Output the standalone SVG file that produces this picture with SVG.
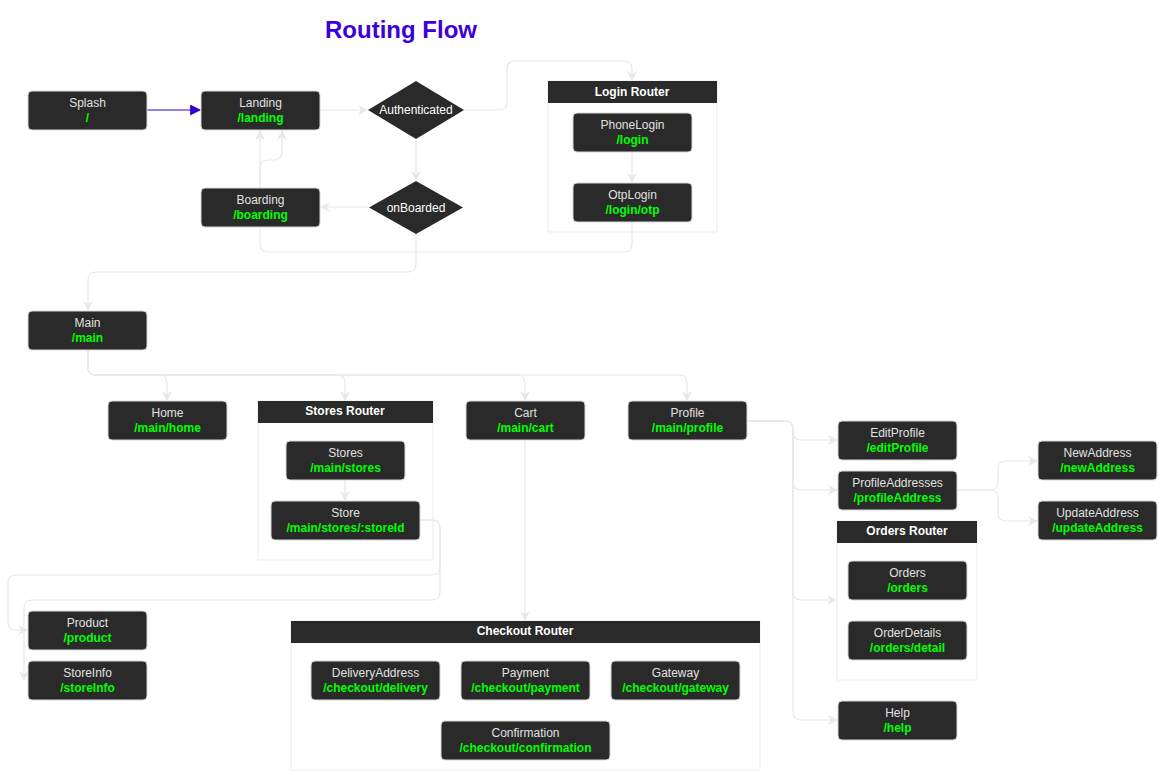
<svg xmlns="http://www.w3.org/2000/svg" width="1159" height="771" viewBox="0 0 1159 771">
<style>
.bg{fill:#ffffff}
.node rect.box{fill:#2a2a2a;stroke:#d8d8d8;stroke-width:1}
.name{font-family:"Liberation Sans",Arial,sans-serif;font-size:12px;fill:#e0e0e0;text-anchor:middle}
.path{font-family:"Liberation Sans",Arial,sans-serif;font-size:12px;font-weight:bold;fill:#00ff00;text-anchor:middle}
.dtext{font-family:"Liberation Sans",Arial,sans-serif;font-size:12px;fill:#ffffff;text-anchor:middle}
.cont{fill:#ffffff;stroke:#ececec;stroke-width:1}
.head{fill:#2a2a2a}
.htext{font-family:"Liberation Sans",Arial,sans-serif;font-size:12px;font-weight:bold;fill:#ffffff;text-anchor:middle}
.title{font-family:"Liberation Sans",Arial,sans-serif;font-size:24px;font-weight:bold;fill:#3c00d8;text-anchor:middle}
.conn path{fill:none;stroke:#e8e8e8;stroke-width:1.2;marker-end:url(#arr)}
.conn path.blue{stroke:#3300cc;marker-end:url(#arrb)}
</style>
<defs>
<marker id="arr" markerUnits="userSpaceOnUse" markerWidth="10" markerHeight="10" viewBox="0 0 10 10" refX="9" refY="5" orient="auto">
<path d="M0,0 L10,5 L0,10 L3,5 z" fill="#e8e8e8"/>
</marker>
<marker id="arrb" markerUnits="userSpaceOnUse" markerWidth="11" markerHeight="11" viewBox="0 0 10 10" refX="9" refY="5" orient="auto">
<path d="M0,0 L10,5 L0,10 z" fill="#3300cc"/>
</marker>
</defs>
<rect class="bg" x="0" y="0" width="1159" height="771"/>
<text class="title" x="401" y="38">Routing Flow</text>

<!-- containers -->
<g id="login-router">
<rect class="cont" x="548" y="81" width="169" height="151"/>
<rect class="head" x="548" y="81" width="169" height="22"/>
<text class="htext" x="632" y="96">Login Router</text>
</g>
<g id="stores-router">
<rect class="cont" x="258" y="401" width="175" height="159"/>
<rect class="head" x="258" y="401" width="175" height="22"/>
<text class="htext" x="345" y="415">Stores Router</text>
</g>
<g id="checkout-router">
<rect class="cont" x="291" y="621" width="469" height="149"/>
<rect class="head" x="291" y="621" width="469" height="22"/>
<text class="htext" x="525" y="635">Checkout Router</text>
</g>
<g id="orders-router">
<rect class="cont" x="837" y="521" width="140" height="159"/>
<rect class="head" x="837" y="521" width="140" height="22"/>
<text class="htext" x="907" y="535">Orders Router</text>
</g>

<!-- connectors -->
<g id="connectors" class="conn">
<path class="blue" d="M147,110 H200"/>
<path d="M320,110 H367"/>
<path d="M464,110 H499 Q507,110 507,102 V69 Q507,61 515,61 H624 Q632,61 632,69 V80"/>
<path d="M416,139 V180"/>
<path d="M369,207 H321"/>
<path d="M260,188 V168 Q260,160 268,160 H274 Q282,160 282,152 V131"/>
<path d="M632,222 V244 Q632,252 624,252 H268 Q260,252 260,244 V131"/>
<path d="M632,152 V182"/>
<path d="M416,234 V264 Q416,272 408,272 H96 Q88,272 88,280 V310"/>
<path d="M88,350 V367 Q88,375 96,375 H159 Q167,375 167,383 V400"/>
<path d="M88,350 V367 Q88,375 96,375 H337 Q345,375 345,383 V400"/>
<path d="M88,350 V367 Q88,375 96,375 H517 Q525,375 525,383 V400"/>
<path d="M88,350 V367 Q88,375 96,375 H679 Q687,375 687,383 V400"/>
<path d="M345,480 V500"/>
<path d="M420,520 H432 Q440,520 440,528 V567 Q440,575 432,575 H16 Q8,575 8,583 V622 Q8,630 16,630 H27"/>
<path d="M420,520 H432 Q440,520 440,528 V592 Q440,600 432,600 H32 Q24,600 24,608 V680"/>
<path d="M525,440 V620"/>
<path d="M747,421 H785 Q793,421 793,429 V432 Q793,440 801,440 H837"/>
<path d="M747,421 H785 Q793,421 793,429 V482 Q793,490 801,490 H837"/>
<path d="M747,421 H785 Q793,421 793,429 V592 Q793,600 801,600 H836"/>
<path d="M747,421 H785 Q793,421 793,429 V712 Q793,720 801,720 H837"/>
<path d="M957,490 H990 Q998,490 998,482 V469 Q998,461 1006,461 H1037"/>
<path d="M957,490 H990 Q998,490 998,498 V513 Q998,521 1006,521 H1037"/>
</g>

<!-- nodes -->
<g id="splash" class="node"><rect class="box" x="28" y="91" width="119" height="39" rx="4"/><text class="name" x="87.5" y="107">Splash</text><text class="path" x="87.5" y="122">/</text></g>
<g id="landing" class="node"><rect class="box" x="201" y="91" width="119" height="39" rx="4"/><text class="name" x="260.5" y="107">Landing</text><text class="path" x="260.5" y="122">/landing</text></g>
<g id="authenticated" class="node"><polygon points="416,81 464,110 416,139 368,110" fill="#2a2a2a"/><text class="dtext" x="416" y="114">Authenticated</text></g>
<g id="onboarded" class="node"><polygon points="416,181 463,207.5 416,234 369,207.5" fill="#2a2a2a"/><text class="dtext" x="416" y="211.5">onBoarded</text></g>
<g id="boarding" class="node"><rect class="box" x="201" y="188" width="119" height="39" rx="4"/><text class="name" x="260.5" y="204">Boarding</text><text class="path" x="260.5" y="219">/boarding</text></g>
<g id="phonelogin" class="node"><rect class="box" x="573" y="113" width="119" height="39" rx="4"/><text class="name" x="632.5" y="129">PhoneLogin</text><text class="path" x="632.5" y="144">/login</text></g>
<g id="otplogin" class="node"><rect class="box" x="573" y="183" width="119" height="39" rx="4"/><text class="name" x="632.5" y="199">OtpLogin</text><text class="path" x="632.5" y="214">/login/otp</text></g>
<g id="main" class="node"><rect class="box" x="28" y="311" width="119" height="39" rx="4"/><text class="name" x="87.5" y="327">Main</text><text class="path" x="87.5" y="342">/main</text></g>
<g id="home" class="node"><rect class="box" x="108" y="401" width="119" height="39" rx="4"/><text class="name" x="167.5" y="417">Home</text><text class="path" x="167.5" y="432">/main/home</text></g>
<g id="stores" class="node"><rect class="box" x="286" y="441" width="119" height="39" rx="4"/><text class="name" x="345.5" y="457">Stores</text><text class="path" x="345.5" y="472">/main/stores</text></g>
<g id="store" class="node"><rect class="box" x="271" y="501" width="149" height="39" rx="4"/><text class="name" x="345.5" y="517">Store</text><text class="path" x="345.5" y="532">/main/stores/:storeId</text></g>
<g id="cart" class="node"><rect class="box" x="466" y="401" width="119" height="39" rx="4"/><text class="name" x="525.5" y="417">Cart</text><text class="path" x="525.5" y="432">/main/cart</text></g>
<g id="profile" class="node"><rect class="box" x="628" y="401" width="119" height="39" rx="4"/><text class="name" x="687.5" y="417">Profile</text><text class="path" x="687.5" y="432">/main/profile</text></g>
<g id="product" class="node"><rect class="box" x="28" y="611" width="119" height="39" rx="4"/><text class="name" x="87.5" y="627">Product</text><text class="path" x="87.5" y="642">/product</text></g>
<g id="storeinfo" class="node"><rect class="box" x="28" y="661" width="119" height="39" rx="4"/><text class="name" x="87.5" y="677">StoreInfo</text><text class="path" x="87.5" y="692">/storeInfo</text></g>
<g id="delivery" class="node"><rect class="box" x="311" y="661" width="129" height="39" rx="4"/><text class="name" x="375.5" y="677">DeliveryAddress</text><text class="path" x="375.5" y="692">/checkout/delivery</text></g>
<g id="payment" class="node"><rect class="box" x="461" y="661" width="129" height="39" rx="4"/><text class="name" x="525.5" y="677">Payment</text><text class="path" x="525.5" y="692">/checkout/payment</text></g>
<g id="gateway" class="node"><rect class="box" x="611" y="661" width="129" height="39" rx="4"/><text class="name" x="675.5" y="677">Gateway</text><text class="path" x="675.5" y="692">/checkout/gateway</text></g>
<g id="confirmation" class="node"><rect class="box" x="441" y="721" width="169" height="39" rx="4"/><text class="name" x="525.5" y="737">Confirmation</text><text class="path" x="525.5" y="752">/checkout/confirmation</text></g>
<g id="editprofile" class="node"><rect class="box" x="838" y="421" width="119" height="39" rx="4"/><text class="name" x="897.5" y="437">EditProfile</text><text class="path" x="897.5" y="452">/editProfile</text></g>
<g id="profileaddresses" class="node"><rect class="box" x="838" y="471" width="119" height="39" rx="4"/><text class="name" x="897.5" y="487">ProfileAddresses</text><text class="path" x="897.5" y="502">/profileAddress</text></g>
<g id="orders" class="node"><rect class="box" x="848" y="561" width="119" height="39" rx="4"/><text class="name" x="907.5" y="577">Orders</text><text class="path" x="907.5" y="592">/orders</text></g>
<g id="orderdetails" class="node"><rect class="box" x="848" y="621" width="119" height="39" rx="4"/><text class="name" x="907.5" y="637">OrderDetails</text><text class="path" x="907.5" y="652">/orders/detail</text></g>
<g id="help" class="node"><rect class="box" x="838" y="701" width="119" height="39" rx="4"/><text class="name" x="897.5" y="717">Help</text><text class="path" x="897.5" y="732">/help</text></g>
<g id="newaddress" class="node"><rect class="box" x="1038" y="441" width="119" height="39" rx="4"/><text class="name" x="1097.5" y="457">NewAddress</text><text class="path" x="1097.5" y="472">/newAddress</text></g>
<g id="updateaddress" class="node"><rect class="box" x="1038" y="501" width="119" height="39" rx="4"/><text class="name" x="1097.5" y="517">UpdateAddress</text><text class="path" x="1097.5" y="532">/updateAddress</text></g>
</svg>
